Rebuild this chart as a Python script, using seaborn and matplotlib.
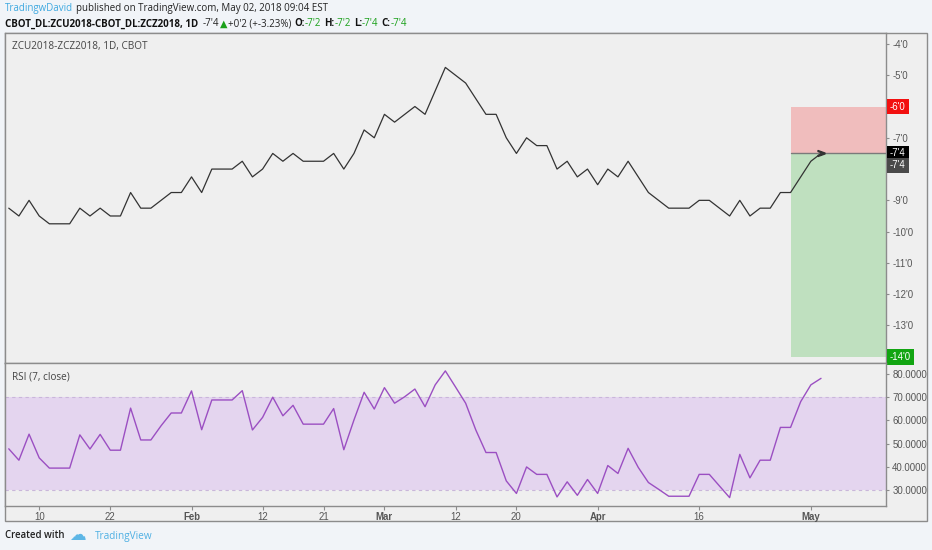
import numpy as np
import pandas as pd
import matplotlib
matplotlib.use('Agg')
import matplotlib.pyplot as plt
import matplotlib.transforms as mtrans
from matplotlib.patches import Rectangle
import seaborn as sns

# daily closes of the ZCU2018-ZCZ2018 spread (cents), Jan 05 .. May 02 2018
close = [-9.25, -9.5, -9.0, -9.5, -9.75, -9.75, -9.75, -9.25, -9.5, -9.25,
         -9.5, -9.5, -8.75, -9.25, -9.25, -9.0, -8.75, -8.75, -8.25, -8.75,
         -8.0, -8.0, -8.0, -7.75, -8.25, -8.0, -7.5, -7.75, -7.5, -7.75,
         -7.75, -7.75, -7.5, -8.0, -7.5, -6.75, -7.0, -6.25, -6.5, -6.25,
         -6.0, -6.25, -5.5, -4.75, -5.0, -5.25, -5.75, -6.25, -6.25, -7.0,
         -7.5, -7.0, -7.25, -7.25, -8.0, -7.75, -8.25, -8.0, -8.5, -8.0,
         -8.25, -7.75, -8.25, -8.75, -9.0, -9.25, -9.25, -9.25, -9.0, -9.0,
         -9.25, -9.5, -9.0, -9.5, -9.25, -9.25, -8.75, -8.75, -8.25, -7.75,
         -7.5]
# RSI(7, close)
rsi = [47.8, 42.9, 54.1, 43.9, 39.5, 39.5, 39.5, 53.8, 47.7, 54.0,
       47.2, 47.2, 65.3, 51.6, 51.6, 57.7, 63.2, 63.2, 72.7, 56.0,
       68.8, 68.8, 68.8, 72.8, 55.9, 61.3, 70.0, 62.0, 66.5, 58.4,
       58.4, 58.4, 65.1, 47.4, 60.2, 72.1, 64.9, 74.1, 67.4, 70.2,
       73.5, 65.9, 75.3, 81.3, 74.4, 67.4, 55.9, 46.2, 46.2, 34.0,
       28.6, 40.0, 36.8, 36.8, 27.1, 33.6, 27.8, 34.6, 28.6, 40.6,
       37.2, 48.0, 39.8, 33.3, 30.4, 27.4, 27.4, 27.4, 36.8, 36.8,
       31.8, 26.8, 45.4, 35.3, 42.9, 42.9, 57.0, 57.0, 68.1, 75.3,
       78.1]

holidays = ['2018-01-15', '2018-02-19', '2018-03-30']
dates = pd.bdate_range('2018-01-05', '2018-05-02', freq='C', holidays=holidays)

tick_dates = ['2018-01-10', '2018-01-22', '2018-02-01', '2018-02-12', '2018-02-21',
              '2018-03-01', '2018-03-12', '2018-03-20', '2018-04-02', '2018-04-16',
              '2018-05-01']
tick_text = ['10', '22', 'Feb', '12', '21', 'Mar', '12', '20', 'Apr', '16', 'May']
month_ticks = ['Feb', 'Mar', 'Apr', 'May']

price_ticks = [-4, -5, -7, -9, -10, -11, -12, -13]
rsi_ticks = [30, 40, 50, 60, 70, 80]

# long position tool
pos_start = '2018-04-27'
entry = -7.5
stop = -14.0
target = -6.0

df = pd.DataFrame({'date': dates, 'close': close, 'rsi': rsi})
df['pos'] = np.arange(len(df))

sns.set_theme(style='ticks')
plt.rcParams['font.family'] = ['Liberation Sans', 'DejaVu Sans']
HF = ['Open Sans', 'DejaVu Sans']

W, H = 932, 550
fig = plt.figure(figsize=(W / 100, H / 100), dpi=100)
fig.patch.set_facecolor('#f1f4f8')

def px_axes(l, t, r, b):
    return fig.add_axes([l / W, 1 - b / H, (r - l) / W, (b - t) / H])

fig.patches.append(Rectangle((5 / W, 1 - 521 / H), 922 / W, 488 / H,
                             transform=fig.transFigure, facecolor='#efefef',
                             edgecolor='#8c8c8c', lw=1, zorder=-5))

ax = px_axes(5, 33, 886, 363)
ax2 = px_axes(5, 363, 886, 506)

def fmt_price(v):
    a = abs(v)
    w = int(np.floor(a + 1e-9))
    e = int(round((a - w) * 8))
    return ('-' if v < 0 else '') + f"{w}'{e}"

xlim = (-0.37, 86.4)
for a in (ax, ax2):
    a.set_facecolor('#efefef')
    a.set_xlim(*xlim)
    for s in a.spines.values():
        s.set_color('#8c8c8c')
        s.set_linewidth(1)
    a.yaxis.tick_right()
    a.tick_params(axis='y', length=2.5, width=0.8, color='#8c8c8c',
                  labelsize=6.9, labelcolor='#555555', pad=2)

# ---- price pane
x0 = df.index[df['date'] == pd.Timestamp(pos_start)][0]
ax.fill_between([x0, xlim[1] + 5], entry, target, color='#f0bdbd', lw=0, zorder=1)
ax.fill_between([x0, xlim[1] + 5], stop, entry, color='#bfe0bf', lw=0, zorder=1)
ax.plot([x0, xlim[1] + 5], [entry, entry], color='#7a7a7a', lw=1, zorder=2)
sns.lineplot(data=df, x='pos', y='close', ax=ax, color='#333333', lw=0.9, zorder=3)
ax.plot(df['pos'].iloc[-1], close[-1], marker=r'$>$', ms=5, color='#333333', zorder=4)
ax.set_xlim(*xlim)
ax.set_ylim(-14.2, -3.65)
ax.set_yticks(price_ticks)
ax.set_yticklabels([fmt_price(v) for v in price_ticks])
ax.set_xticks([])
ax.set_xlabel('')
ax.set_ylabel('')
ax.text(7 / 881, 0.958, 'ZCU2018-ZCZ2018, 1D, CBOT', transform=ax.transAxes,
        fontsize=7.2, color='#444444', va='center', family=HF)

tr = mtrans.blended_transform_factory(ax.transAxes, ax.transData)
off = mtrans.ScaledTranslation(0, -12 / 100, fig.dpi_scale_trans)
boxes = [(target, '#f21010', tr), (entry, '#000000', tr),
         (close[-1], '#4a4a4a', tr + off), (stop, '#12a512', tr)]
for v, c, t in boxes:
    ax.text(1 + 4 / 881, v, fmt_price(v), transform=t, fontsize=6.9, color='white',
            va='center', ha='left', clip_on=False, zorder=5,
            bbox=dict(boxstyle='square,pad=0.3', fc=c, ec='none'))

# ---- RSI pane
ax2.axhspan(30, 70, color='#e4d5ef', lw=0, zorder=1)
for lv in (30, 70):
    ax2.axhline(lv, color='#c9b6da', lw=0.8, ls=(0, (3, 3)), zorder=2)
sns.lineplot(data=df, x='pos', y='rsi', ax=ax2, color='#9b4fc2', lw=1, zorder=3)
ax2.set_xlim(*xlim)
ax2.set_ylim(23.2, 84.7)
ax2.set_yticks(rsi_ticks)
ax2.set_yticklabels([f'{v:.4f}' for v in rsi_ticks])
xt = [int(df.index[df['date'] == pd.Timestamp(d)][0]) for d in tick_dates]
ax2.set_xticks(xt)
ax2.set_xticklabels(tick_text)
ax2.tick_params(axis='x', length=3, width=0.8, color='#8c8c8c', labelsize=6.9,
                labelcolor='#555555', pad=1.5)
for lab in ax2.get_xticklabels():
    if lab.get_text() in month_ticks:
        lab.set_fontweight('bold')
ax2.set_xlabel('')
ax2.set_ylabel('')
ax2.text(7 / 881, 0.902, 'RSI (7, close)', transform=ax2.transAxes,
         fontsize=7.2, color='#444444', va='center', family=HF)

# ---- header / footer text runs
renderer = fig.canvas.get_renderer()

def runs(x, y, parts, size=7.05):
    for s, gap, kw in parts:
        t = fig.text(x / W, 1 - y / H, s, va='center', ha='left', fontsize=size,
                     family=HF, **kw)
        bb = t.get_window_extent(renderer)
        x = bb.x1 + gap

green = '#1aa01a'
runs(5, 9, [('TradingwDavid', 3, dict(color='#3fa9e0')),
            ('published on TradingView.com, May 02, 2018 09:04 EST', 0, dict(color='#222222'))])
runs(5, 24, [('CBOT_DL:ZCU2018-CBOT_DL:ZCZ2018, 1D', 4, dict(color='#111111', fontweight='bold')),
             ("-7'4", 1, dict(color='#222222')),
             ('\u25b2', 1, dict(color=green)),
             ("+0'2 (+-3.23%)", 3, dict(color='#222222')),
             ('O:', 0, dict(color='#111111', fontweight='bold')),
             ("-7'2", 3, dict(color=green)),
             ('H:', 0, dict(color='#111111', fontweight='bold')),
             ("-7'2", 3, dict(color=green)),
             ('L:', 0, dict(color='#111111', fontweight='bold')),
             ("-7'4", 3, dict(color=green)),
             ('C:', 0, dict(color='#111111', fontweight='bold')),
             ("-7'4", 0, dict(color=green))])
runs(5, 536, [('Created with', 0, dict(color='#222222', fontweight='semibold'))], size=6.9)
fig.text(69 / W, 1 - 535 / H, '\u2601', fontsize=12, color='#5db6e6', va='center',
         family=['DejaVu Sans'])
fig.text(95 / W, 1 - 536 / H, 'TradingView', fontsize=7.2, color='#4fb0e3',
         va='center', family=HF)

fig.savefig('out.png', dpi=100, facecolor=fig.get_facecolor())
